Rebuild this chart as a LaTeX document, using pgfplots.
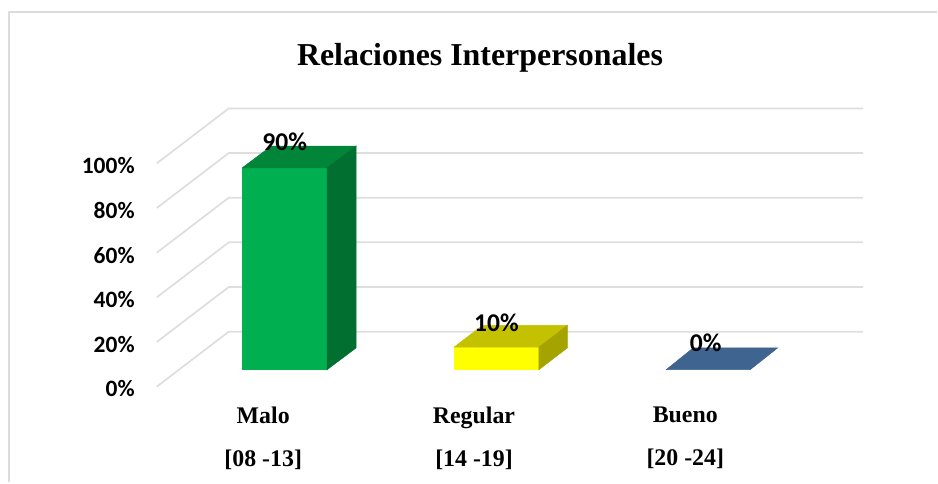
\documentclass[border=0pt]{standalone}
\usepackage{fontspec}
\setmainfont{Liberation Serif}
\newfontfamily\carl{Carlito}
\usepackage{pgfplots}
\pgfplotsset{compat=1.18}
\definecolor{gridc}{HTML}{DEDEDE}
\definecolor{framec}{HTML}{DCDCDC}
\definecolor{gfront}{HTML}{00B050}
\definecolor{gtop}{HTML}{008539}
\definecolor{gside}{HTML}{006F30}
\definecolor{yfront}{HTML}{FFFF00}
\definecolor{ytop}{HTML}{C4C200}
\definecolor{yside}{HTML}{A5A300}
\definecolor{btop}{HTML}{3F6490}
\begin{document}
\begin{tikzpicture}
% wall, floor and scale: x in reference pixels, y in percent on the front plane
\begin{axis}[
  at={(0,0)}, anchor=south west,
  width=703.5pt, height=362.25pt, scale only axis,
  xmin=0, xmax=938, ymin=-42.95, ymax=173.15,
  axis line style={draw=none},
  tick style={draw=none},
  major tick length=0pt,
  clip=false,
  ytick={0,20,40,60,80,100},
  yticklabels={0\%,20\%,40\%,60\%,80\%,100\%},
  yticklabel style={font=\carl\bfseries\fontsize{17.6}{20}\selectfont, anchor=east, inner sep=0pt, xshift=101.25pt, yshift=-1.8pt},
  xtick={263.5,474.5,686},
  xticklabels={{Malo\\{}[08 -13]},{Regular\\{}[14 -19]},{Bueno\\{}[20 -24]}},
  xticklabel style={font=\bfseries\fontsize{17.9}{32.25}\selectfont, align=center, anchor=north, inner sep=0pt, yshift=57pt},
]
\addplot[gridc, line width=1.3pt] coordinates {(157,0)(229,24.6)(864,24.6)};
\addplot[gridc, line width=1.3pt] coordinates {(157,20)(229,44.6)(864,44.6)};
\addplot[gridc, line width=1.3pt] coordinates {(157,40)(229,64.6)(864,64.6)};
\addplot[gridc, line width=1.3pt] coordinates {(157,60)(229,84.6)(864,84.6)};
\addplot[gridc, line width=1.3pt] coordinates {(157,80)(229,104.6)(864,104.6)};
\addplot[gridc, line width=1.3pt] coordinates {(157,100)(229,124.6)(864,124.6)};
% chart-area frame (open at right and bottom)
\addplot[framec, line width=1.5pt] coordinates {(9,-42.95)(9,167.6)(938,167.6)};
\node[font=\bfseries\fontsize{23.95}{26}\selectfont, inner sep=0pt] at (axis cs:480.5,147.4) {Relaciones Interpersonales};
\end{axis}
% bars: x in reference pixels, y in percent on the bar plane
\begin{axis}[
  at={(0,0)}, anchor=south west,
  width=703.5pt, height=362.25pt, scale only axis,
  xmin=0, xmax=938, ymin=-50.36, ymax=164.89,
  hide axis, clip=false,
]
\addplot[gfront, fill=gfront] coordinates {(242.5,0)(327.5,0)(327.5,90)(242.5,90)} -- cycle;
\addplot[gtop, fill=gtop] coordinates {(242.5,90)(327.5,90)(356.5,99.7)(271.5,99.7)} -- cycle;
\addplot[gside, fill=gside] coordinates {(327.5,0)(356.5,9.7)(356.5,99.7)(327.5,90)} -- cycle;
\addplot[yfront, fill=yfront] coordinates {(454.5,0)(539.5,0)(539.5,10)(454.5,10)} -- cycle;
\addplot[ytop, fill=ytop] coordinates {(454.5,10)(539.5,10)(568,19.7)(483,19.7)} -- cycle;
\addplot[yside, fill=yside] coordinates {(539.5,0)(568,9.7)(568,19.7)(539.5,10)} -- cycle;
\addplot[btop, fill=btop] coordinates {(667,0)(751,0)(778.5,9.7)(694,9.7)} -- cycle;
\node[font=\carl\bfseries\fontsize{19.2}{21}\selectfont, inner sep=0pt] at (axis cs:285,101.6) {90\%};
\node[font=\carl\bfseries\fontsize{19.2}{21}\selectfont, inner sep=0pt] at (axis cs:497,21) {10\%};
\node[font=\carl\bfseries\fontsize{19.2}{21}\selectfont, inner sep=0pt] at (axis cs:706.5,12) {0\%};
\end{axis}
\end{tikzpicture}
\end{document}
